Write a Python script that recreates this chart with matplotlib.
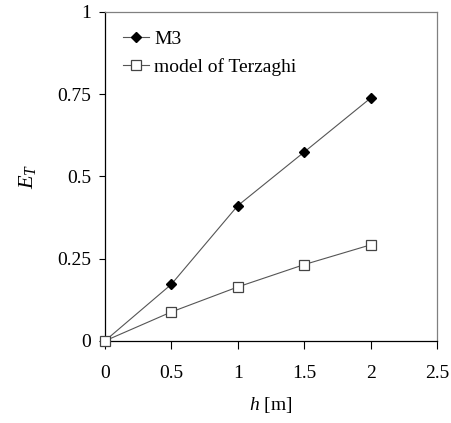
import matplotlib
matplotlib.use("Agg")
import matplotlib.pyplot as plt

plt.rcParams['font.family'] = ['Liberation Serif', 'DejaVu Serif']
plt.rcParams['mathtext.fontset'] = 'custom'
plt.rcParams['mathtext.it'] = 'Liberation Serif:italic'
plt.rcParams['mathtext.rm'] = 'Liberation Serif'

h = [0, 0.5, 1, 1.5, 2]
m3 = [0, 0.172, 0.411, 0.574, 0.738]
terzaghi = [0, 0.088, 0.164, 0.232, 0.292]
xticks = [0, 0.5, 1, 1.5, 2, 2.5]
xlabels = ['0', '0.5', '1', '1.5', '2', '2.5']
yticks = [0, 0.25, 0.5, 0.75, 1]
ylabels = ['0', '0.25', '0.5', '0.75', '1']

fig = plt.figure(figsize=(4.52, 4.23), dpi=100)
ax = fig.add_axes([0.232, 0.194, 0.735, 0.778])

ax.plot(h, m3, color='#555555', lw=0.8, marker='D', ms=5.5, mfc='black', mec='black',
        label='M3', clip_on=False, zorder=3)
ax.plot(h, terzaghi, color='#555555', lw=0.8, marker='s', ms=7, mfc='white', mec='#444444',
        mew=0.9, label='model of Terzaghi', clip_on=False, zorder=3)

ax.set_xlim(0, 2.5)
ax.set_ylim(0, 1)
ax.set_xticks(xticks)
ax.set_xticklabels(xlabels)
ax.set_yticks(yticks)
ax.set_yticklabels(ylabels)
ax.tick_params(axis='both', labelsize=14, direction='out', width=0.8, color='black')
ax.tick_params(axis='x', length=6, pad=11)
ax.tick_params(axis='y', length=4, pad=6)

for s in ['top', 'right']:
    ax.spines[s].set_color('#808080')
    ax.spines[s].set_linewidth(0.9)
for s in ['left', 'bottom']:
    ax.spines[s].set_color('black')
    ax.spines[s].set_linewidth(0.9)

ax.set_xlabel(r'$h$ [m]', fontsize=14, labelpad=10)
ax.set_ylabel(r'$E_T$', fontsize=16, labelpad=14)

ax.legend(loc='upper left', frameon=False, fontsize=14, handlelength=1.3,
          handletextpad=0.3, labelspacing=0.5, borderaxespad=0.55)

fig.savefig('out.png', dpi=100)
